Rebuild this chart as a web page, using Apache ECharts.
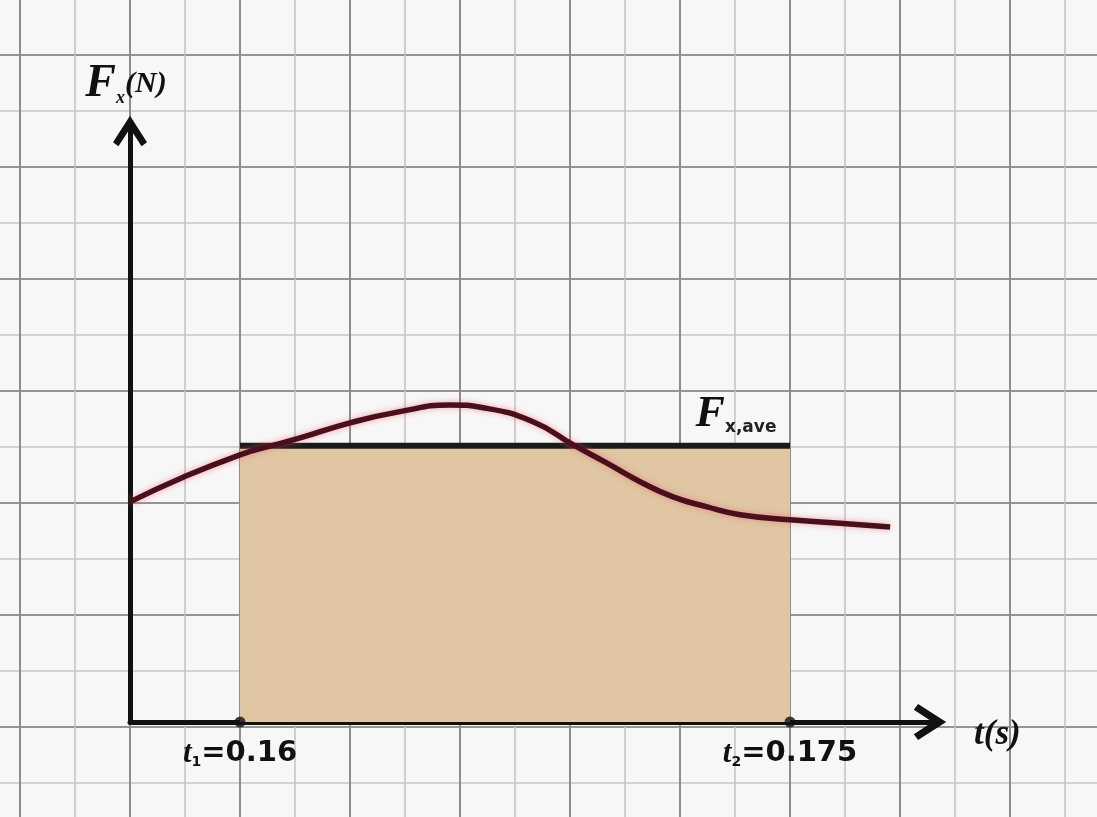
<!DOCTYPE html>
<html>
<head>
<meta charset="utf-8">
<script src="https://cdn.jsdelivr.net/npm/echarts@6/dist/echarts.min.js"></script>
<style>
html,body{margin:0;padding:0;background:#f8f7f7;}
#chart{width:1097px;height:817px;}
</style>
</head>
<body>
<div id="chart"></div>
<script>
// ---- data ----
var t1 = 0.16;
var t2 = 0.175;
var tickValues = [0.16, 0.175];
var forceTimes = [0.157, 0.15845, 0.16, 0.16074, 0.16164, 0.1630, 0.16436, 0.16573, 0.16663, 0.16799, 0.16908, 0.17001, 0.17091, 0.17181, 0.17274, 0.17364, 0.175, 0.17636, 0.17773];
var forceValues = [3.93, 4.37, 4.77, 4.91, 5.07, 5.34, 5.54, 5.66, 5.61, 5.36, 4.95, 4.62, 4.29, 4.02, 3.84, 3.70, 3.61, 3.55, 3.48];
var avgForce = 4.93;

var curve = forceTimes.map(function (t, i) { return [t, forceValues[i]]; });
var avgLine = [[t1, avgForce], [t2, avgForce]];

var chart = echarts.init(document.getElementById('chart'), null, {renderer: 'canvas'});

var arrowPath = 'path://M50,0 L100,78 L84,90 L50,38 L16,90 L0,78 Z';

function hidden() { return {show: false}; }
function paperX(gi, max, interval, color, width) {
  return {
    gridIndex: gi, type: 'value', min: 0, max: max, interval: interval,
    axisLine: hidden(), axisTick: hidden(), axisLabel: hidden(),
    splitLine: {show: true, showMinLine: true, showMaxLine: true, lineStyle: {color: color, width: width}}
  };
}
function paperY(gi, max, interval, color, width) {
  return {
    gridIndex: gi, type: 'value', min: 0, max: max, interval: interval, inverse: true,
    axisLine: hidden(), axisTick: hidden(), axisLabel: hidden(),
    splitLine: {show: true, showMinLine: true, showMaxLine: true, lineStyle: {color: color, width: width}}
  };
}
function blankX(gi) {
  return {gridIndex: gi, type: 'value', min: 0, max: 1, axisLine: hidden(), axisTick: hidden(), axisLabel: hidden(), splitLine: hidden()};
}
function blankY(gi) {
  return {gridIndex: gi, type: 'value', min: 0, max: 1, axisLine: hidden(), axisTick: hidden(), axisLabel: hidden(), splitLine: hidden()};
}

var option = {
  backgroundColor: '#f8f7f7',
  animation: false,
  grid: [
    // 0: minor vertical lines
    {left: 20, width: 1045, top: 0, bottom: 0},
    // 1: major vertical lines
    {left: 20, width: 990, top: 0, bottom: 0},
    // 2: minor horizontal lines
    {left: 0, right: 0, top: 55, height: 728},
    // 3: major horizontal lines
    {left: 0, right: 0, top: 55, height: 672},
    // 4: plot
    {left: 130, top: 131, right: 167, bottom: 95}
  ],
  xAxis: [
    paperX(0, 19, 1, '#c2c2c2', 1.5),
    paperX(1, 18, 2, '#8e8e8e', 2),
    blankX(2),
    blankX(3),
    {
      gridIndex: 4, type: 'value', min: 0.157, max: 0.178818,
      axisLine: {show: true, onZero: false, symbol: ['none', arrowPath], symbolSize: [36, 34],
        lineStyle: {color: '#111', width: 5}},
      axisTick: {show: false},
      splitLine: {show: false},
      axisLabel: {
        show: true,
        customValues: tickValues,
        margin: 16,
        formatter: function (v) {
          if (Math.abs(v - t1) < 1e-6) return '{t|t}{s|1}{v|=0.16}';
          return '{t|t}{s|2}{v|=0.175}';
        },
        rich: {
          t: {fontFamily: 'Liberation Serif', fontStyle: 'italic', fontWeight: 'bold', fontSize: 31, color: '#111'},
          s: {fontFamily: 'DejaVu Sans', fontWeight: 'bold', fontSize: 14, color: '#111', verticalAlign: 'bottom', padding: [12, 0, 0, 0]},
          v: {fontFamily: 'DejaVu Sans', fontWeight: 'bold', fontSize: 29, color: '#111'}
        }
      },
      name: '{t|t(s)}',
      nameLocation: 'end',
      nameGap: 44,
      nameTextStyle: {
        padding: [26, 0, 0, 0],
        rich: {
          t: {fontFamily: 'Liberation Serif', fontStyle: 'italic', fontWeight: 'bold', fontSize: 35, color: '#111'}
        }
      }
    }
  ],
  yAxis: [
    blankY(0),
    blankY(1),
    paperY(2, 13, 1, '#c6c6c6', 1.5),
    paperY(3, 12, 2, '#959595', 2),
    {
      gridIndex: 4, type: 'value', min: 0, max: 10.55,
      axisLine: {show: true, onZero: false, symbol: ['none', arrowPath], symbolSize: [34, 34],
        lineStyle: {color: '#111', width: 5}},
      axisTick: {show: false},
      axisLabel: {show: false},
      splitLine: {show: false},
      name: '{f|F}{s|x}{n|(N)}',
      nameLocation: 'end',
      nameGap: 24,
      nameTextStyle: {
        padding: [0, 0, 0, -8],
        rich: {
          f: {fontFamily: 'Liberation Serif', fontStyle: 'italic', fontWeight: 'bold', fontSize: 46, color: '#111'},
          s: {fontFamily: 'Liberation Serif', fontStyle: 'italic', fontWeight: 'bold', fontSize: 18, color: '#111', verticalAlign: 'bottom', padding: [18, 0, 0, 0]},
          n: {fontFamily: 'Liberation Serif', fontStyle: 'italic', fontWeight: 'bold', fontSize: 30, color: '#111'}
        }
      }
    }
  ],
  series: [
    {
      name: 'average',
      type: 'line',
      xAxisIndex: 4, yAxisIndex: 4,
      data: avgLine,
      symbol: 'none',
      lineStyle: {color: '#1a1a1a', width: 6},
      areaStyle: {color: '#e0c6a3', opacity: 1, origin: 'start'},
      z: 2,
      markPoint: {
        symbol: 'circle', symbolSize: 1,
        itemStyle: {color: 'rgba(0,0,0,0)'},
        data: [{coord: [t2, avgForce]}],
        label: {
          show: true,
          position: 'top',
          offset: [-54, -4],
          formatter: '{f|F}{s|x,ave}',
          rich: {
            f: {fontFamily: 'Liberation Serif', fontStyle: 'italic', fontWeight: 'bold', fontSize: 44, color: '#111'},
            s: {fontFamily: 'DejaVu Sans', fontWeight: 'bold', fontSize: 17, color: '#222', verticalAlign: 'bottom', padding: [18, 0, 0, 0]}
          }
        }
      }
    },
    {
      name: 'force',
      type: 'line',
      xAxisIndex: 4, yAxisIndex: 4,
      data: curve,
      smooth: 0.5,
      symbol: 'none',
      lineStyle: {color: '#4a0f1c', width: 5.5, shadowColor: 'rgba(230,90,100,0.55)', shadowBlur: 6},
      z: 3
    },
    {
      name: 'ticks',
      type: 'scatter',
      xAxisIndex: 4, yAxisIndex: 4,
      data: tickValues.map(function (t) { return [t, 0]; }),
      symbol: 'circle',
      symbolSize: 11,
      itemStyle: {color: '#111'},
      z: 4
    }
  ]
};
chart.setOption(option);
</script>
</body>
</html>
